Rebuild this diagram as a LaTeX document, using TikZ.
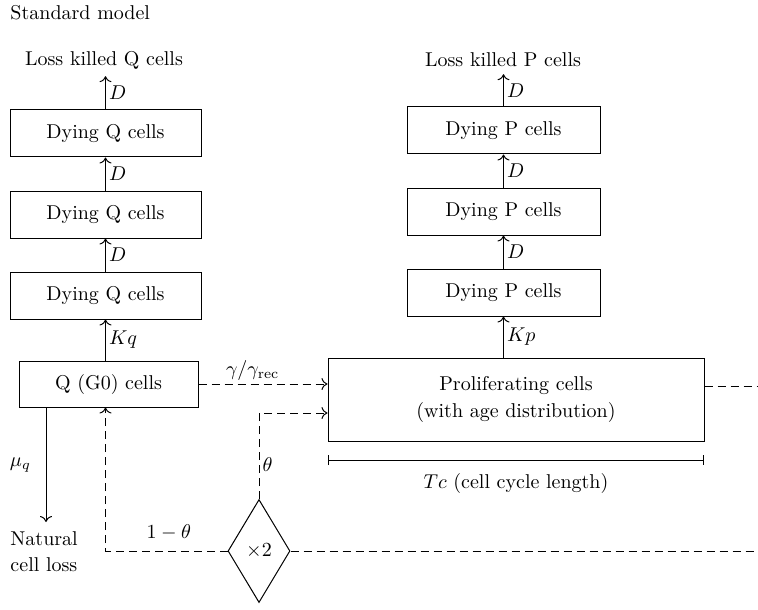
\documentclass[tikz,border=0pt]{standalone}
\usepackage{amsmath}
\usepackage{tikz}
\usetikzlibrary{shapes.geometric}
\usetikzlibrary{arrows.meta}

\begin{document}
\begin{tikzpicture}[x=0.5pt,y=-0.5pt,line width=0.5pt,>={To[length=3pt,width=6pt]},
    box/.style={draw,rectangle,minimum width=95.5pt,minimum height=23.5pt,inner sep=0pt},
    lab/.style={inner sep=1.5pt},
    dsh/.style={dash pattern=on 4pt off 2.5pt}]
    \useasboundingbox (0,0) rectangle (758,609);

    \node[anchor=west,inner sep=0pt] (title) at (10,13) {Standard model};

    \node (lossq) at (104,60) {Loss killed Q cells};
    \node[box] (dq1) at (105.5,133.5) {Dying Q cells};
    \node[box] (dq2) at (105.5,214.5) {Dying Q cells};
    \node[box] (dq3) at (105.5,295.5) {Dying Q cells};
    \node[box,minimum width=89.5pt,minimum height=23pt] (qcell) at (108.5,384) {Q (G0) cells};

    \node (lossp) at (503,60) {Loss killed P cells};
    \node[box,minimum width=96.5pt] (dp1) at (503.5,130.5) {Dying P cells};
    \node[box,minimum width=96.5pt] (dp2) at (503.5,211.5) {Dying P cells};
    \node[box,minimum width=96.5pt] (dp3) at (503.5,292.5) {Dying P cells};
    \node[box,minimum width=188pt,minimum height=41.5pt,align=center] (prolif) at (516,399.5) {Proliferating cells\\[1.5pt](with age distribution)};

    \node[draw,diamond,minimum width=31pt,minimum height=51.5pt,inner sep=0pt] (dbl) at (259,551) {$\times 2$};
    \node[anchor=north west,align=left,inner sep=0pt] (natural) at (10,531) {Natural\\[1pt]cell loss};

    \coordinate (mu) at (46,522);
    \coordinate (pout) at (758,386);
    \coordinate (dout) at (758,551);
    \coordinate (tcl) at (328,460);
    \coordinate (tcr) at (704,460);

    \draw[->] (dq1.north) -- (dq1.north |- lossq.south) node[midway,right,lab] {$D$};
    \draw[->] (dq2.north) -- (dq1.south) node[midway,right,lab] {$D$};
    \draw[->] (dq3.north) -- (dq2.south) node[midway,right,lab] {$D$};
    \draw[->] (qcell.north -| dq3) -- (dq3.south) node[midway,right,lab] {$Kq$};
    \draw[->] (qcell.south -| mu) -- (mu) node[midway,left=4pt] {$\mu_q$};

    \draw[->] (dp1.north) -- (dp1.north |- lossp.south) node[midway,right,lab] {$D$};
    \draw[->] (dp2.north) -- (dp1.south) node[midway,right,lab] {$D$};
    \draw[->] (dp3.north) -- (dp2.south) node[midway,right,lab] {$D$};
    \draw[->] (prolif.north -| dp3) -- (dp3.south) node[midway,right,lab] {$Kp$};

    \draw[->,dsh] (qcell.east) -- (qcell.east -| prolif.west) node[pos=0.42,above,lab] {$\gamma/\gamma_{\mathrm{rec}}$};
    \draw[->,dsh] (dbl.north) |- ([yshift=-6.75pt]prolif.west) node[pos=0.2,right,lab] {$\theta$};
    \draw[->,dsh] (dbl.west) -| (qcell.south -| dq3) node[pos=0.24,above=2pt] {$1-\theta$};
    \draw[dsh] (dbl.east) -- (dout);
    \draw[dsh] (prolif.east |- pout) -- (pout);

    \draw[|-|] (tcl) -- (tcr) node[midway,below=3pt] (tc) {$Tc$ (cell cycle length)};
\end{tikzpicture}
\end{document}
